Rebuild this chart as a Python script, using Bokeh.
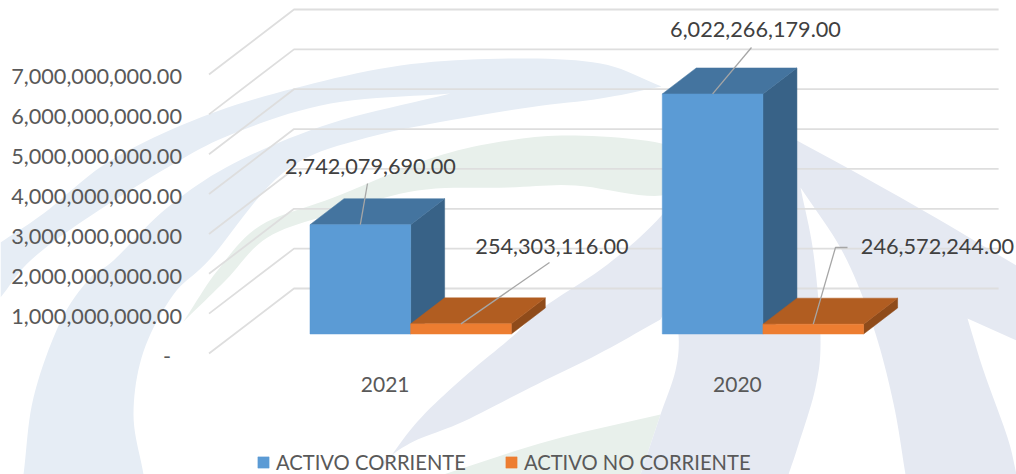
from bokeh.core.properties import value
from bokeh.embed import file_html
from bokeh.models import FixedTicker, Legend, LegendItem, LinearAxis, Range1d
from bokeh.plotting import figure
from bokeh.resources import INLINE
import numpy as np

# ---- data ----
categories = ["2021", "2020"]
activo_corriente = [2742079690.0, 6022266179.0]
activo_no_corriente = [254303116.0, 246572244.0]
series_names = ["ACTIVO CORRIENTE", "ACTIVO NO CORRIENTE"]
y_ticks = [1e9, 2e9, 3e9, 4e9, 5e9, 6e9, 7e9]
y_tick_labels = ["1,000,000,000.00", "2,000,000,000.00", "3,000,000,000.00", "4,000,000,000.00",
                 "5,000,000,000.00", "6,000,000,000.00", "7,000,000,000.00"]

# ---- layout / projection ----
W, H = 1016, 474
KX = 352.3             # px per category
KY = 39.86e-9          # px per unit of value
FRONT_X, FRONT_Y = 208.5, 353   # picture px of category 0 / value 0 on the front plane
DEPTH_X, DEPTH_Y = 85 / KX, 65 / KY   # the depth vector, in data units
GAP = 1.5
BAR_W = 1 / (2 + GAP)
Z0, Z1 = 0.3, 0.7

X0 = -FRONT_X / KX
Y1 = FRONT_Y / KY
x_range = Range1d(X0, X0 + W / KX)
y_range = Range1d(Y1 - H / KY, Y1)


def wx(sx):
    return X0 + np.asarray(sx, float) / KX


def wy(sy):
    return Y1 - np.asarray(sy, float) / KY


def proj(x, v, z):
    return x + z * DEPTH_X, v + z * DEPTH_Y


def smooth(pts, n=10):
    """Catmull-Rom through pts (picture px)."""
    pts = [np.array(q, float) for q in pts]
    if len(pts) < 3:
        return [tuple(q) for q in pts]
    ext = [2 * pts[0] - pts[1]] + pts + [2 * pts[-1] - pts[-2]]
    out = []
    for i in range(1, len(ext) - 2):
        p0, p1, p2, p3 = ext[i - 1], ext[i], ext[i + 1], ext[i + 2]
        for t in np.linspace(0, 1, n, endpoint=False):
            out.append(tuple(0.5 * (2 * p1 + (p2 - p0) * t + (2 * p0 - 5 * p1 + 4 * p2 - p3) * t ** 2
                                    + (3 * p1 - p0 - 3 * p2 + p3) * t ** 3)))
    out.append(tuple(pts[-1]))
    return out


def shape(*segments):
    pts = []
    for s in segments:
        pts += smooth(s)
    return wx([q[0] for q in pts]).tolist(), wy([q[1] for q in pts]).tolist()


p = figure(width=W, height=H, x_range=x_range, y_range=y_range, output_backend="svg",
           toolbar_location=None, x_axis_location=None, y_axis_location=None,
           min_border=0, outline_line_color=None, background_fill_color="white", border_fill_color="white")
p.xgrid.visible = False
p.ygrid.visible = False
LABEL_DROP = 2.5 / KY
p.extra_y_ranges = {"labels": Range1d(y_range.start + LABEL_DROP, y_range.end + LABEL_DROP)}

# ---- pale background picture ----
wm = [
    (shape([(0, 242), (43, 213), (110, 160), (200, 117), (293, 88), (400, 65), (508, 58), (600, 63), (661, 86)],
           [(661, 86), (600, 98), (508, 110), (367, 137), (283, 172), (210, 258), (173, 294), (143, 351), (133, 414), (143, 474)],
           [(23, 474), (33, 397), (60, 321), (90, 277), (113, 260), (167, 207), (233, 163), (330, 123), (450, 93)],
           [(450, 93), (330, 103), (233, 133), (167, 167), (83, 220), (30, 260), (0, 297)]), "#E6EDF5"),
    (shape([(183, 321), (217, 270), (260, 225), (333, 197), (433, 157), (508, 140), (575, 135), (661, 143), (700, 165)],
           [(700, 165), (661, 195), (575, 185), (508, 187), (417, 190), (333, 213), (267, 237), (225, 280), (183, 321)]), "#E8F0EB"),
    (shape([(443, 474), (550, 440), (660, 414)], [(660, 414), (640, 474)]), "#E8F0EB"),
    (shape([(760, 120), (900, 197), (1016, 265)], [(1016, 265), (1016, 340)], [(1016, 340), (967, 318)],
           [(967, 318), (983, 370), (1007, 437), (1016, 474)], [(1016, 474), (905, 474)],
           [(905, 474), (893, 403), (873, 327), (843, 253), (800, 187)],
           [(800, 187), (813, 253), (820, 337), (815, 387), (798, 444), (788, 474)], [(788, 474), (640, 474)],
           [(640, 474), (660, 414)], [(660, 414), (675, 370), (678, 334), (670, 300)], [(670, 300), (660, 319)],
           [(660, 319), (597, 354), (530, 387), (463, 421), (413, 441), (383, 461), (380, 470)],
           [(380, 470), (417, 421), (463, 377), (512, 336), (543, 307), (607, 264), (661, 215), (700, 160), (760, 120)]), "#E5E9F2"),
]
p.patches([w[0][0] for w in wm], [w[0][1] for w in wm], fill_color=[w[1] for w in wm], line_color=None)

# ---- gridlines: side wall + back wall ----
grid_x, grid_y = [], []
for v in [0] + y_ticks:
    bx, by = proj(0, v, 1)
    ex, _ = proj(len(categories), v, 1)
    grid_x.append([0, bx, ex])
    grid_y.append([v, by, by])
p.multi_line(grid_x, grid_y, line_color="#DEDEDE", line_width=1.8)

# ---- 3-D bars ----
series = [
    (activo_corriente, 0, "#5B9BD5", "#44749F", "#386287"),
    (activo_no_corriente, 1, "#ED7D31", "#B15D21", "#8F4B1A"),
]
fronts = []
for vals, k, c_front, c_top, c_side in series:
    tops, sides, front = [[], []], [[], []], [[], []]
    for i, v in enumerate(vals):
        xl = i + 0.5 - BAR_W + k * BAR_W
        xr = xl + BAR_W
        a = [proj(xl, v, Z0), proj(xr, v, Z0), proj(xr, v, Z1), proj(xl, v, Z1)]
        b = [proj(xr, 0, Z0), proj(xr, v, Z0), proj(xr, v, Z1), proj(xr, 0, Z1)]
        c = [proj(xl, 0, Z0), proj(xr, 0, Z0), proj(xr, v, Z0), proj(xl, v, Z0)]
        for store, q in ((tops, a), (sides, b), (front, c)):
            store[0].append([t[0] for t in q])
            store[1].append([t[1] for t in q])
    p.patches(sides[0], sides[1], fill_color=c_side, line_color=c_side, line_width=0.5)
    p.patches(tops[0], tops[1], fill_color=c_top, line_color=c_top, line_width=0.5)
    fronts.append(p.patches(front[0], front[1], fill_color=c_front, line_color=c_front, line_width=0.5))

# ---- data labels with leader lines ----
FONT = "Lato"
FS = "21.7px"
lab_x, lab_y, lab_t = [], [], []
lead_x, lead_y = [], []
label_places = [  # (series, category, label centre, leader way-points) in picture px
    (0, 0, (370, 166), [(367, 183)]),
    (1, 0, (551.5, 246), [(549, 262)]),
    (0, 1, (755, 29), [(751, 47)]),
    (1, 1, (937, 246), [(835, 247), (847, 247)]),
]
for k, i, (sx, sy), way in label_places:
    v = series[k][0][i]
    xl = i + 0.5 - BAR_W + k * BAR_W
    ax, ay = proj(xl + BAR_W / 2, v, Z0)
    lab_x.append(float(wx(sx)))
    lab_y.append(float(wy(sy)))
    lab_t.append(f"{v:,.2f}")
    lead_x.append([ax] + [float(wx(q[0])) for q in way])
    lead_y.append([ay] + [float(wy(q[1])) for q in way])
p.multi_line(lead_x, lead_y, line_color="#A6A6A6", line_width=1.3)
p.text(lab_x, lab_y, text=lab_t, text_font=value(FONT), text_font_size=value(FS), text_color="#404040",
       text_align="center", text_baseline="middle")


def style(ax, standoff, fs=FS):
    ax.axis_line_color = None
    ax.major_tick_line_color = None
    ax.minor_tick_line_color = None
    ax.major_tick_in = 0
    ax.major_tick_out = 0
    ax.major_label_standoff = standoff
    ax.major_label_text_font = FONT
    ax.major_label_text_font_size = fs
    ax.major_label_text_color = "#595959"


# ---- axes ----
left = LinearAxis(fixed_location=0, y_range_name="labels", ticker=FixedTicker(ticks=y_ticks),
                  major_label_overrides=dict(zip(y_ticks, y_tick_labels)))
style(left, 27)
p.add_layout(left, "left")
zero = LinearAxis(fixed_location=0, y_range_name="labels", ticker=FixedTicker(ticks=[0]), major_label_overrides={0: "-"})
style(zero, 38)
p.add_layout(zero, "left")
cat_pos = [i + 0.5 for i in range(len(categories))]
bottom = LinearAxis(fixed_location=0, ticker=FixedTicker(ticks=cat_pos),
                    major_label_overrides=dict(zip(cat_pos, categories)))
style(bottom, 23, "21px")
p.add_layout(bottom, "below")

# ---- legend ----
legend = Legend(items=[LegendItem(label=n, renderers=[r]) for n, r in zip(series_names, fronts)],
                orientation="horizontal", location=(256, 0), border_line_color=None, background_fill_alpha=0,
                padding=0, margin=0, spacing=38, label_standoff=6, glyph_width=14, glyph_height=14,
                label_text_font=FONT, label_text_font_size="20.2px", label_text_color="#595959")
p.add_layout(legend, "center")

open("out.html", "w").write(file_html(p, INLINE))
